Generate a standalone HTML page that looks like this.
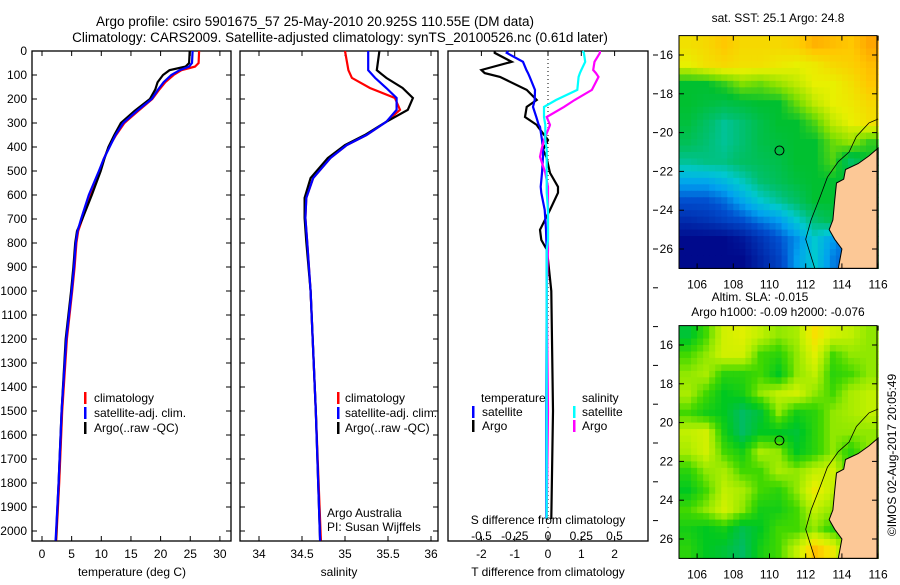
<!DOCTYPE html>
<html><head><meta charset="utf-8"><style>
body{margin:0;background:#fff}
svg{font-family:"Liberation Sans",sans-serif;font-size:12px}
</style></head><body>
<svg id="c" width="900" height="580" viewBox="0 0 900 580" xmlns="http://www.w3.org/2000/svg">
<text x="315" y="26" text-anchor="middle" font-size="13.5">Argo profile: csiro 5901675_57 25-May-2010 20.925S 110.55E (DM data)</text>
<text x="340" y="42" text-anchor="middle" font-size="13.5">Climatology: CARS2009. Satellite-adjusted climatology: synTS_20100526.nc (0.61d later)</text>
</svg>
<script>
// ---------- data ----------
const depthT=[0,50,65,80,100,130,160,200,250,300,350,400,450,500,600,700,750,800,900,1000,1200,1500,1800,2040];
const tempClim=[26.5,26.4,25.8,23.5,22.2,20.8,19.8,18.6,16.2,13.9,12.5,11.3,10.4,9.7,8.1,6.8,6.1,5.8,5.5,5.1,4.2,3.4,2.9,2.4];
const tempSat=[25.4,25.3,24.8,23.2,21.8,20.5,19.6,18.5,16.0,13.7,12.4,11.4,10.4,9.6,7.9,6.6,6.0,5.7,5.4,5.0,4.1,3.3,2.8,2.3];
const tempArgo=[24.9,24.8,24.2,21.5,20.4,19.5,19.1,18.2,15.6,13.3,12.2,11.2,10.5,9.9,8.4,6.8,5.9,5.6,5.3,4.9,4.0,3.3,2.8,2.35];
const depthS=[0,80,112,154,196,245,295,350,392,446,529,612,696,795,1000,1500,2040];
const salClim=[35.0,35.04,35.08,35.29,35.58,35.64,35.48,35.25,35.02,34.83,34.63,34.55,34.54,34.56,34.6,34.66,34.72];
const salSat=[35.27,35.27,35.35,35.48,35.60,35.60,35.48,35.25,35.02,34.83,34.63,34.55,34.54,34.56,34.6,34.66,34.71];
const salArgo=[35.40,35.37,35.48,35.67,35.79,35.73,35.48,35.23,35.0,34.8,34.6,34.53,34.53,34.55,34.6,34.66,34.71];
const depthD=[0,8,45,79,92,108,162,204,233,275,308,316,371,412,441,508,566,591,662,745,787,829,1000,1500,1950];
const dTsat=[-1.2,-1.24,-0.75,-0.65,-0.6,-0.55,-0.39,-0.4,-0.45,-0.35,-0.28,-0.24,-0.18,-0.15,-0.15,-0.18,-0.22,-0.2,-0.1,-0.06,-0.05,-0.04,-0.04,-0.05,-0.05];
const dTargo=[-1.6,-1.6,-1.09,-2.0,-1.9,-1.44,-0.64,-0.34,-0.64,-0.69,-0.34,-0.3,0.0,-0.15,-0.05,0.06,0.3,0.3,0.06,-0.24,-0.2,-0.03,0.1,0.15,0.1];
const dSsat=[0.26,0.27,0.28,0.25,0.24,0.23,0.22,0.06,-0.03,-0.03,-0.02,-0.02,-0.02,-0.01,-0.01,-0.01,-0.01,-0.01,0.0,0.0,0.0,-0.01,-0.01,-0.01,-0.01];
const dSargo=[0.39,0.39,0.35,0.34,0.36,0.38,0.33,0.2,0.12,-0.01,0.015,0.01,-0.03,-0.05,-0.06,-0.02,0.0,0.0,0.0,0.0,0.0,0.0,-0.01,0.0,-0.01];
const depthTicks=[0,100,200,300,400,500,600,700,800,900,1000,1100,1200,1300,1400,1500,1600,1700,1800,1900,2000];
const tTicks=[0,5,10,15,20,25,30];
const sTicks=[34,34.5,35,35.5,36];
const dtTicks=[-2,-1,0,1,2];
const dsTicks=["-0.5","-0.25","0","0.25","0.5"];
const latTicks=[16,18,20,22,24,26];
const lonTicks=[106,108,110,112,114,116];
const sstGrid=[
[25.2,25.3,25.5,25.3,25.3,25.3,25.4,25.7,25.6,25.5,25.8],
[25.0,25.2,25.3,25.2,25.2,25.1,25.0,25.1,25.3,25.4,25.6],
[24.0,24.0,24.2,24.5,24.4,24.6,24.8,25.0,25.0,25.2,25.5],
[24.0,23.9,23.8,23.9,24.0,24.0,24.4,24.8,25.0,25.1,25.3],
[23.9,23.6,23.3,23.5,23.8,24.0,24.0,24.3,24.8,25.0,25.2],
[23.7,23.5,23.3,23.5,23.8,23.9,24.0,24.0,24.4,24.6,24.2],
[23.3,23.4,23.4,23.6,23.7,23.8,24.0,24.0,24.3,23.6,24.0],
[22.6,22.6,22.8,23.1,23.5,23.7,23.9,24.0,24.0,24.0,24.0],
[22.0,22.0,22.2,22.6,23.0,23.3,23.6,24.0,24.0,24.0,24.0],
[21.5,21.6,21.8,22.0,22.3,22.5,23.0,23.5,23.8,24.0,24.0],
[21.0,21.0,21.0,21.2,21.6,22.0,22.4,23.0,22.5,22.0,24.0],
[21.0,21.0,21.0,21.0,21.4,21.8,22.5,23.0,22.3,22.0,24.0]];
const slaGrid=[
[-0.06,-0.02,0.03,0.04,0.02,0.0,0.01,0.06,0.03,0.02,0.0],
[-0.02,0.0,0.03,0.03,-0.02,-0.03,0.0,0.04,-0.02,0.0,0.0],
[0.0,0.01,-0.03,-0.03,-0.02,-0.05,0.0,0.02,-0.03,-0.02,0.0],
[0.01,-0.02,-0.05,-0.04,0.0,0.02,0.03,0.0,-0.02,0.01,0.02],
[-0.02,-0.04,-0.05,-0.08,-0.06,0.0,-0.04,-0.03,0.0,0.01,0.02],
[0.02,0.03,-0.04,-0.08,-0.05,-0.05,-0.06,-0.03,0.0,0.0,0.0],
[0.01,0.03,-0.02,-0.04,0.01,0.0,-0.05,-0.03,0.0,-0.03,0.0],
[-0.03,0.0,0.01,-0.02,-0.02,0.01,0.0,0.02,0.03,-0.03,0.0],
[-0.05,-0.02,0.02,0.01,-0.02,-0.03,0.0,0.05,0.02,-0.03,0.0],
[-0.02,0.0,0.03,0.0,-0.04,-0.04,-0.02,0.02,0.0,-0.03,0.0],
[-0.04,-0.05,-0.04,-0.07,-0.05,-0.02,-0.02,0.0,-0.03,-0.03,0.0],
[-0.03,-0.05,-0.06,-0.08,-0.04,-0.02,0.02,0.08,0.05,-0.03,0.0]];
const landLon=[116,115.5,114.9,114.2,114.1,113.7,113.6,113.5,113.3,113.6,114,113.8,116];
const landLat=[20.8,21.2,21.6,21.9,22.4,22.6,23.5,24.5,25,25.5,26,27,27];
const isoLon=[116,115.5,114.8,114.4,113.8,113.2,112.8,112.3,112.0,112.5];
const isoLat=[19.3,19.5,20.2,21.0,21.5,22.3,23.3,24.5,25.5,27];
const argoLon=110.55, argoLat=20.925;

// ---------- helpers ----------
const S=document.getElementById('c'),NS='http://www.w3.org/2000/svg';
function el(t,a,txt){const e=document.createElementNS(NS,t);for(const k in a)e.setAttribute(k,a[k]);if(txt!==undefined)e.textContent=txt;S.appendChild(e);return e;}
const Y=d=>51+d*0.24, TOP=51, BOT=541;
function panel(x0,x1,name){const r=el('rect',{x:x0,y:TOP,width:x1-x0,height:BOT-TOP,fill:'none',stroke:'#000','stroke-width':1.3});
}
function line(xs,ds,fx,col,name,w){let p=xs.map((v,i)=>fx(v).toFixed(1)+','+Y(ds[i]).toFixed(1)).join(' ');
const e=el('polyline',{points:p,fill:'none',stroke:col,'stroke-width':w||2.2,'stroke-linejoin':'miter'});
}
function txt(x,y,s,anchor,name,extra){const e=el('text',Object.assign({x:x,y:y,'text-anchor':anchor||'start'},extra||{}),s);
return e;}
function tick(x1,y1,x2,y2){const e=el('line',{x1:x1,y1:y1,x2:x2,y2:y2,stroke:'#000','stroke-width':1});
}
function legBar(x,y,col,name){const e=el('rect',{x:x,y:y-10,width:2.5,height:12,fill:col});
}

// ---------- panel 1: temperature ----------
const xT=v=>42+v*5.93;
panel(32,231,'temperature-panel');
depthTicks.forEach(d=>{tick(32,Y(d),37,Y(d));tick(226,Y(d),231,Y(d));txt(27,Y(d)+4,String(d),'end','depth-tick-label');});
tTicks.forEach(t=>{tick(xT(t),BOT,xT(t),BOT-5);tick(xT(t),TOP,xT(t),TOP+5);txt(xT(t),558,String(t),'middle','temp-tick-label');});
line(tempClim,depthT,xT,'#f00','temp-climatology-line');
line(tempArgo,depthT,xT,'#000','temp-argo-line');
line(tempSat,depthT,xT,'#00f','temp-satellite-line');
txt(132,576,'temperature (deg C)','middle','temp-x-axis-title');
legBar(84,402,'#f00','legend-red-bar');txt(94,402,'climatology','start','legend-climatology');
legBar(84,417,'#00f','legend-blue-bar');txt(94,417,'satellite-adj. clim.','start','legend-satellite');
legBar(84,432,'#000','legend-black-bar');txt(94,432,'Argo(..raw -QC)','start','legend-argo');

// ---------- panel 2: salinity ----------
const xS=v=>259+(v-34)*86;
panel(240,438,'salinity-panel');
depthTicks.forEach(d=>{tick(240,Y(d),245,Y(d));tick(433,Y(d),438,Y(d));});
sTicks.forEach(s=>{tick(xS(s),BOT,xS(s),BOT-5);tick(xS(s),TOP,xS(s),TOP+5);txt(xS(s),558,String(s),'middle','sal-tick-label');});
line(salClim,depthS,xS,'#f00','sal-climatology-line');
line(salArgo,depthS,xS,'#000','sal-argo-line');
line(salSat,depthS,xS,'#00f','sal-satellite-line');
txt(339,576,'salinity','middle','sal-x-axis-title');
legBar(337,402,'#f00','legend-red-bar-2');txt(345,402,'climatology','start','legend-climatology-2');
legBar(337,417,'#00f','legend-blue-bar-2');txt(345,417,'satellite-adj. clim.','start','legend-satellite-2');
legBar(337,432,'#000','legend-black-bar-2');txt(345,432,'Argo(..raw -QC)','start','legend-argo-2');
txt(327,517,'Argo Australia','start','argo-australia-label');
txt(327,531,'PI: Susan Wijffels','start','pi-label');

// ---------- panel 3: differences ----------
const xD=v=>548+v*33.3, xDS=v=>548+v*133;
panel(448,648,'difference-panel');
const z=el('line',{x1:548,y1:TOP,x2:548,y2:BOT,stroke:'#000','stroke-width':1,'stroke-dasharray':'1,3'});

dtTicks.forEach(t=>{tick(xD(t),BOT,xD(t),BOT-5);tick(xD(t),TOP,xD(t),TOP+5);txt(xD(t),558,String(t),'middle','dT-tick-label');});
dsTicks.forEach(s=>{txt(xDS(parseFloat(s)),540,s,'middle','dS-tick-label');});
for(let y=55;y<=542;y+=38.8){tick(653,y,658,y);}
line(dTargo,depthD,xD,'#000','dT-argo-line');
line(dTsat,depthD,xD,'#00f','dT-satellite-line');
line(dSargo,depthD,xDS,'#f0f','dS-argo-line');
line(dSsat,depthD,xDS,'#0ff','dS-satellite-line');
txt(548,524,'S difference from climatology','middle','dS-axis-title');
txt(548,576,'T difference from climatology','middle','dT-x-axis-title');
txt(481,402,'temperature','start','legend-temperature-heading');
txt(582,402,'salinity','start','legend-salinity-heading');
legBar(472,416,'#00f','legend-dT-sat-bar');txt(482,416,'satellite','start','legend-dT-sat');
legBar(472,430,'#000','legend-dT-argo-bar');txt(482,430,'Argo','start','legend-dT-argo');
legBar(573,416,'#0ff','legend-dS-sat-bar');txt(582,416,'satellite','start','legend-dS-sat');
legBar(573,430,'#f0f','legend-dS-argo-bar');txt(582,430,'Argo','start','legend-dS-argo');

// ---------- maps ----------
function lerpCol(stops,v){if(v<=stops[0][0])return stops[0][1];for(let i=1;i<stops.length;i++){if(v<=stops[i][0]){const a=stops[i-1],b=stops[i],f=(v-a[0])/(b[0]-a[0]);
const ca=a[1].match(/\w\w/g).map(h=>parseInt(h,16)),cb=b[1].match(/\w\w/g).map(h=>parseInt(h,16));
return 'rgb('+ca.map((c,k)=>Math.round(c+(cb[k]-c)*f)).join(',')+')';}}return stops[stops.length-1][1];}
const sstStops=[[21,'#000a8c'],[22,'#0050d0'],[22.5,'#00a0f0'],[23,'#00c8d0'],[23.5,'#00c070'],[24,'#00c030'],[24.5,'#80e000'],[25,'#e8f000'],[25.5,'#ffc800'],[26,'#ff9000']];
const slaStops=[[-0.09,'#00b878'],[-0.05,'#00c820'],[-0.02,'#40d800'],[0,'#90e800'],[0.02,'#c0f000'],[0.04,'#e0f000'],[0.06,'#f8e000'],[0.08,'#ffc000']];
function sample(grid,r,c){const R=grid.length-1,C=grid[0].length-1;r=Math.max(0,Math.min(R,r));c=Math.max(0,Math.min(C,c));
 const r0=Math.floor(r),c0=Math.floor(c),r1=Math.min(R,r0+1),c1=Math.min(C,c0+1),fr=r-r0,fc=c-c0;
 return grid[r0][c0]*(1-fr)*(1-fc)+grid[r0][c1]*(1-fr)*fc+grid[r1][c0]*fr*(1-fc)+grid[r1][c1]*fr*fc;}
function map(top,grid,stops,name){
 const mx=v=>679+(v-105)*18.1, my=v=>top+(v-15)*19.4;
 const N=3;
 for(let r=0;r<grid.length*N;r++)for(let c=0;c<grid[0].length*N;c++){
  const v=sample(grid,(r+0.5)/N-0.5,(c+0.5)/N-0.5);
  const e=el('rect',{x:mx(105+c/N).toFixed(2),y:my(15+r/N).toFixed(2),width:18.1/N+0.6,height:19.4/N+0.6,fill:lerpCol(stops,v)});
  
  }
 const lp=landLon.map((v,i)=>mx(v).toFixed(1)+','+my(landLat[i]).toFixed(1)).join(' ');
 const l=el('polygon',{points:lp,fill:'#fcc896',stroke:'#000','stroke-width':1});
 
 const ip=isoLon.map((v,i)=>mx(v).toFixed(1)+','+my(isoLat[i]).toFixed(1)).join(' ');
 const iso=el('polyline',{points:ip,fill:'none',stroke:'#000','stroke-width':0.8});
 
 const ci=el('circle',{cx:mx(argoLon),cy:my(argoLat),r:4.5,fill:'none',stroke:'#000','stroke-width':1});
 
 const b=el('rect',{x:679,y:my(15),width:198,height:my(27)-my(15),fill:'none',stroke:'#000','stroke-width':1});
 
 latTicks.forEach(t=>{tick(679,my(t),684,my(t));tick(872,my(t),877,my(t));txt(673,my(t)+4,String(t),'end','lat-tick-label');});
 lonTicks.forEach(t=>{tick(mx(t),my(27),mx(t),my(27)-5);tick(mx(t),my(15),mx(t),my(15)+5);txt(mx(t),my(27)+20,String(t),'middle','lon-tick-label');});
}
map(35.6,sstGrid,sstStops,'sst-map');
map(325.6,slaGrid,slaStops,'sla-map');
txt(778,22,'sat. SST: 25.1 Argo: 24.8','middle','sst-map-title');
txt(760,301,'Altim. SLA: -0.015','middle','sla-map-title-1');
txt(778,316,'Argo h1000: -0.09 h2000: -0.076','middle','sla-map-title-2');
txt(0,0,'©IMOS 02-Aug-2017 20:05:49','middle','timestamp-credit',{transform:'translate(896,455) rotate(-90)'});
</script>
</body></html>
